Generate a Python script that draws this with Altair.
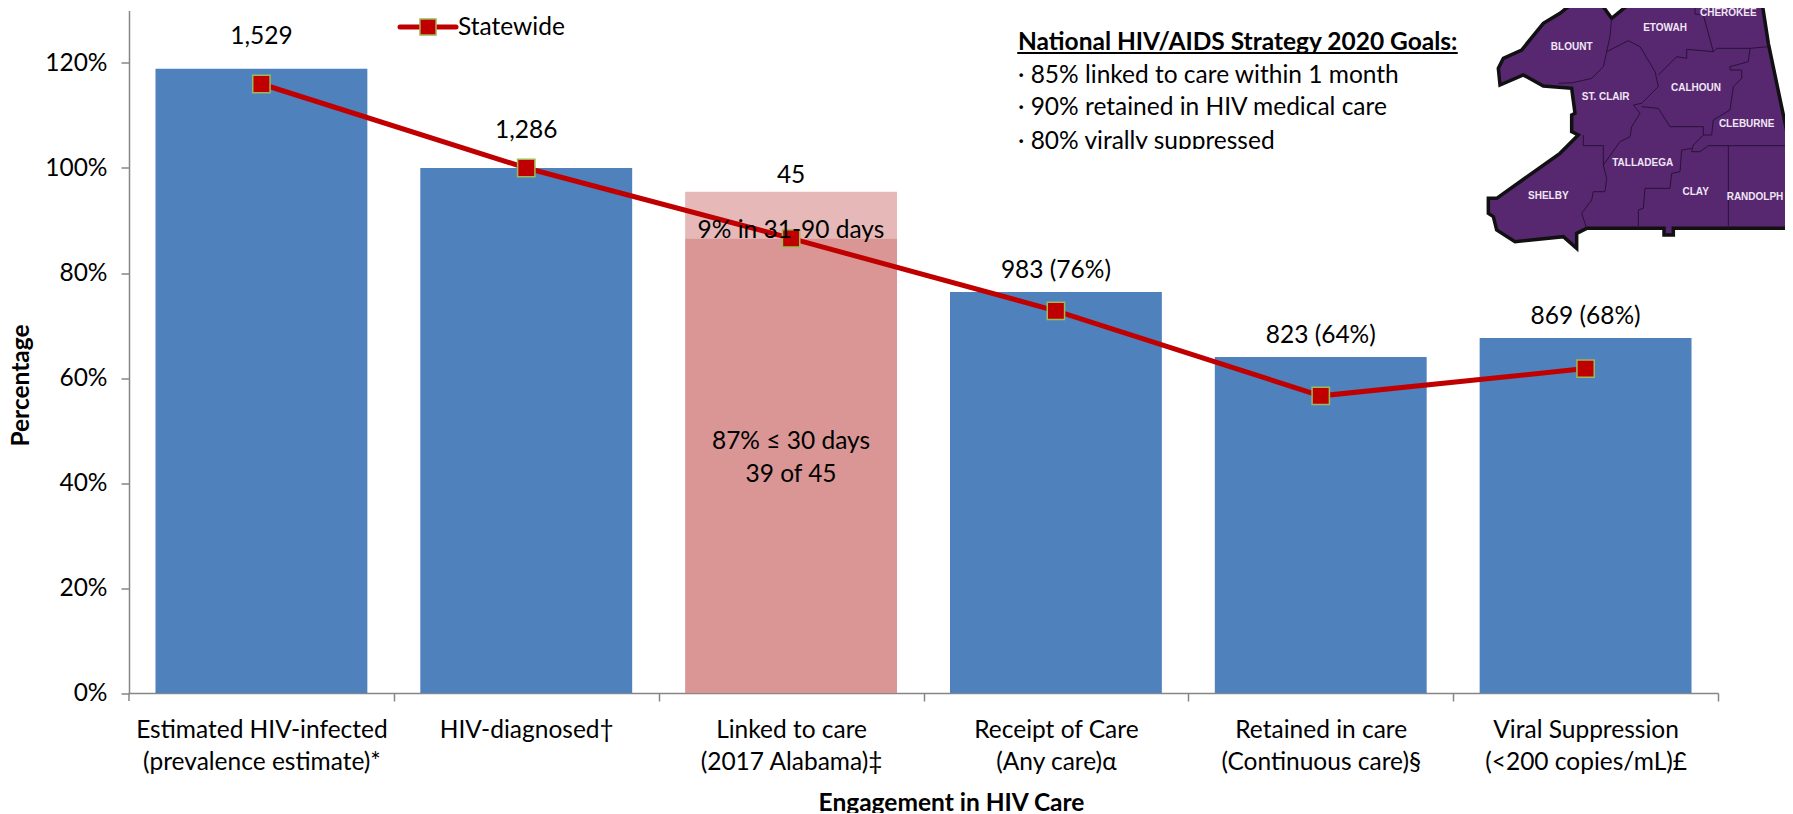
import altair as alt
import pandas as pd

categories = ["Estimated HIV-infected\n(prevalence estimate)*", "HIV-diagnosed†", "Linked to care\n(2017 Alabama)‡",
              "Receipt of Care\n(Any care)α", "Retained in care\n(Continuous care)§", "Viral Suppression\n(<200 copies/mL)£"]
bar_low = [0, 0, 0, 86.6, 0, 0, 0]
bar_high = [118.9, 100, 86.6, 95.5, 76.4, 64.0, 67.6]
bar_cat = [0, 1, 2, 2, 3, 4, 5]
bar_seg = ["count", "count", "within 30", "31-90", "count", "count", "count"]
statewide = [116, 100, 86.6, 72.8, 56.6, 61.8]
count_labels = ["1,529", "1,286", "45", "983 (76%)", "823 (64%)", "869 (68%)"]
count_tops = [118.9, 100, 95.5, 76.4, 64.0, 67.6]
goal_title = "National HIV/AIDS Strategy 2020 Goals:"
goal_lines = ["· 85% linked to care within 1 month", "· 90% retained in HIV medical care", "· 80% virally suppressed"]

OX, OY, W, H = 129, 10.5, 1589, 682.5
FONT = "Lato"
FS = 24.5

def px(x, y):
    return [x - OX, y - OY]

def zm(points):
    # map outline: crop units -> plot pixels
    return [px(1460 + a / 3, b / 3) for a, b in points]

map_outline = [(115,205),(130,175),(185,150),(250,70),(300,40),(350,0),(345,-40),(415,-40),(415,0),(455,55),(510,10),(560,0),(560,-40),
               (905,-40),(905,0),(925,130),(990,440),(1010,520),(1010,685),(640,685),(640,705),(612,705),(612,685),(380,685),(350,700),
               (350,745),(310,710),(165,725),(110,690),(100,650),(85,640),(85,595),(110,595),(300,460),(355,405),(335,395),
               (335,345),(345,340),(335,265),(250,258),(190,225),(120,255),(115,205)]
map_borders = [
    [(455,55),(450,110),(440,155),(430,200),(395,235),(340,248),(295,250)],
    [(440,155),(505,122),(540,140),(585,215),(595,260),(545,310),(520,315),(540,340),(515,380),(510,410),(480,425),(430,495)],
    [(370,405),(370,437),(430,437),(430,495),(440,535),(435,575),(400,575),(395,600),(365,640),(380,685)],
    [(595,225),(650,170),(680,175),(680,148),(760,155),(770,145),(870,145),(925,140)],
    [(705,-20),(705,42),(730,45),(760,155)],
    [(870,145),(865,185),(810,200),(810,210),(845,210),(845,235),(820,260),(810,330),(760,360),(755,405),(730,405)],
    [(545,320),(595,325),(630,380),(730,380),(730,405),(700,435),(695,455),(720,455),(745,437),(985,437)],
    [(695,445),(665,450),(660,515),(635,520),(630,565),(555,565),(550,625),(535,630),(535,685)],
    [(805,437),(805,685)],
]
map_labels = [("BLOUNT",335,140),("ETOWAH",615,85),("CHEROKEE",805,40),("ST. CLAIR",437,290),("CALHOUN",708,265),
              ("CLEBURNE",860,373),("TALLADEGA",548,490),("CLAY",707,575),("RANDOLPH",885,590),("SHELBY",265,587)]

def geo(features):
    return alt.Data(values={"type": "FeatureCollection", "features": features},
                    format=alt.DataFormat(property="features", type="json"))

outline_f = [{"type": "Feature", "properties": {}, "geometry": {"type": "Polygon", "coordinates": [zm(map_outline)]}}]
border_f = [{"type": "Feature", "properties": {}, "geometry": {"type": "LineString", "coordinates": zm(b)}} for b in map_borders]

x_enc = alt.X("cat:N", sort=None, title="Engagement in HIV Care",
              scale=alt.Scale(domain=categories, paddingInner=0.2, paddingOuter=0.1),
              axis=alt.Axis(labelAngle=0, tickOffset=W / 12, labelOffset=-W / 12, labelExpr="split(datum.label, '\\n')", labelLineHeight=32,
                            labelFont=FONT, labelFontSize=FS, labelColor="#000000", labelPadding=17, labelLimit=400,
                            domainColor="#868686", tickColor="#868686", tickSize=8, domainWidth=1.5, tickWidth=1.5, labelBaseline="top",
                            titleFont=FONT, titleFontSize=FS, titleFontWeight="bold", titleColor="#000000",
                            titleX=951 - OX, titleY=803 - 693, titleBaseline="middle"))
y_enc = alt.Y("v:Q", title="Percentage", scale=alt.Scale(domain=[0, 130], nice=False),
              axis=alt.Axis(values=[0, 20, 40, 60, 80, 100, 120], format=".0f", labelExpr="datum.value + '%'", grid=False,
                            labelFont=FONT, labelFontSize=FS, labelColor="#000000", labelPadding=14, domainColor="#868686",
                            tickColor="#868686", tickSize=8, domainWidth=1.5, tickWidth=1.5,
                            titleFont=FONT, titleFontSize=FS, titleFontWeight="bold", titleColor="#000000",
                            titleX=21.5 - OX, titleY=385 - OY, titleBaseline="middle", titleAngle=270))

bars_df = pd.DataFrame({"cat": [categories[i] for i in bar_cat], "v": bar_high, "low": bar_low, "seg": bar_seg})
bars = alt.Chart(bars_df).mark_bar().encode(
    x=x_enc, y=y_enc, y2="low:Q",
    color=alt.Color("seg:N", legend=None,
                    scale=alt.Scale(domain=["count", "within 30", "31-90"], range=["#4F81BD", "#D99694", "#E6B9B8"])))

first_tick = alt.Chart(pd.DataFrame({"t": [0]})).mark_rule(color="#868686", strokeWidth=1.5).encode(
    x=alt.value(0), y=alt.value(H), y2=alt.value(H + 8))

line_df = pd.DataFrame({"cat": categories, "v": statewide})
line = alt.Chart(line_df).mark_line(color="#C00000", strokeWidth=5).encode(x=x_enc, y=y_enc)
pts = alt.Chart(line_df).mark_point(shape="square", filled=True, fill="#C00000", stroke="#9BBB59", strokeWidth=1.5,
                                    size=300, opacity=1).encode(x=x_enc, y=y_enc)

count_dy = [-32, -37, -16, -21, -21, -21]
count_layers = []
for c, t, lab, dy in zip(categories, count_tops, count_labels, count_dy):
    count_layers.append(alt.Chart(pd.DataFrame({"cat": [c], "v": [t], "t": [lab]})).mark_text(
        font=FONT, fontSize=FS, color="#000000", dy=dy, baseline="middle").encode(x=x_enc, y=y_enc, text="t:N"))

def label(text, x, y, size=FS, align="left", color="#000000", weight="normal", font=FONT):
    pos = px(x, y)
    return alt.Chart(pd.DataFrame({"t": [text]})).mark_text(
        font=font, fontSize=size, align=align, baseline="middle", color=color, fontWeight=weight).encode(
        x=alt.value(pos[0]), y=alt.value(pos[1]), text="t:N")

def hline(x0, x1, y, color, width):
    a, b = px(x0, y), px(x1, y)
    return alt.Chart(pd.DataFrame({"t": [0]})).mark_rule(color=color, strokeWidth=width, strokeCap="round").encode(
        x=alt.value(a[0]), x2=alt.value(b[0]), y=alt.value(a[1]))

in_bar = [label("9% in 31-90 days", 791, 231, align="center"),
          label("87% ≤ 30 days", 791, 442, align="center"),
          label("39 of 45", 791, 475, align="center")]

lx, ly = px(428, 27)
legend = [hline(400, 456, 27, "#C00000", 5),
          alt.Chart(pd.DataFrame({"t": [0]})).mark_point(shape="square", filled=True, fill="#C00000", stroke="#9BBB59",
                                                         strokeWidth=1.5, size=260, opacity=1).encode(x=alt.value(lx), y=alt.value(ly)),
          label("Statewide", 458, 28)]

goals = [label(goal_title, 1018, 43, weight="bold"), hline(1018, 1457, 53, "#000000", 2)]
for s, y in zip(goal_lines, [76, 108, 142]):
    goals.append(label(s, 1018, y))
ca, cb = px(1010, 149), px(1300, 165)
goals.append(alt.Chart(pd.DataFrame({"t": [0]})).mark_rect(color="#FFFFFF", opacity=1).encode(
    x=alt.value(ca[0]), x2=alt.value(cb[0]), y=alt.value(ca[1]), y2=alt.value(cb[1])))

proj = dict(type="identity", scale=1, translate=[0, 0], clipExtent=[[-500, -500], [3000, 3000]])
map_fill = alt.Chart(geo(outline_f)).mark_geoshape(fill="#57276F", stroke="#111111", strokeWidth=3.5, clip=False).project(**proj)
map_lines = alt.Chart(geo(border_f)).mark_geoshape(filled=False, stroke="#2A1238", strokeWidth=1, clip=False).project(**proj)
map_text = [label(n, 1460 + a / 3, b / 3, size=10, align="center", color="#F0E6F5", weight="bold", font="Liberation Sans")
            for n, a, b in map_labels]

chart = alt.layer(bars, first_tick, line, pts, *count_layers, *in_bar, *legend, *goals, map_fill, map_lines, *map_text).properties(
    width=W, height=H,
    autosize=alt.AutoSizeParams(type="none"),
    padding={"left": OX - 8, "top": OY - 8, "right": 1777 - (OX - 8) - W, "bottom": 120},
).configure_view(stroke=None)

chart.save("out.html", embed_options={"renderer": "svg", "actions": False})
